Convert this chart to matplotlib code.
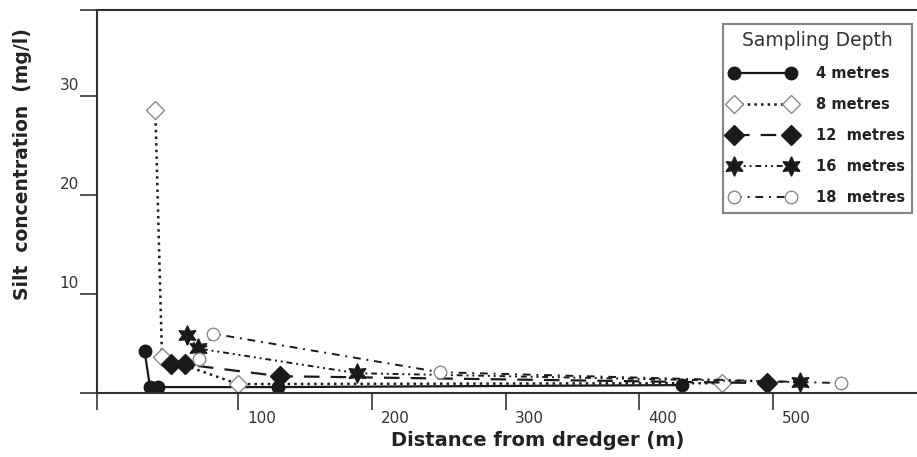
import matplotlib
matplotlib.use('Agg')
from matplotlib import pyplot as plt
from matplotlib.transforms import ScaledTranslation

plt.rcParams['font.family'] = ['DejaVu Sans']

# distance from dredger (m) and silt concentration (mg/l) per sampling depth
x4 = [30, 34, 40, 130, 432]
y4 = [4.2, 0.6, 0.6, 0.6, 0.8]
x8 = [38, 43, 100, 462]
y8 = [28.6, 3.6, 0.9, 1.0]
x12 = [50, 60, 131, 495]
y12 = [2.9, 2.9, 1.7, 1.0]
x16 = [62, 70, 189, 520]
y16 = [5.9, 4.5, 2.0, 1.1]
x18 = [71, 81, 251, 551]
y18 = [3.4, 6.0, 2.1, 1.0]

labels = ['4 metres', '8 metres', '12  metres', '16  metres', '18  metres']
xticks = [100, 200, 300, 400, 500]
yticks = [10, 20, 30]

xmin, xmax = -5.6, 607.5
ymin, ymax = 0, 38.7

fig = plt.figure(figsize=(9.17, 4.57), dpi=100)
ax = fig.add_axes([0.1058, 0.140, 0.8942, 0.838])

dk = '#1a1a1a'
gr = '#8a8a8a'
l4, = ax.plot(x4, y4, '-', color=dk, lw=1.6, marker='o', ms=9, mfc=dk, mec=dk, label=labels[0])
l8, = ax.plot(x8, y8, ':', color=dk, lw=1.8, marker='D', ms=9, mfc='white', mec=gr, label=labels[1])
l12, = ax.plot(x12, y12, color=dk, lw=1.6, dashes=(7, 5), marker='D', ms=10, mfc=dk, mec=dk, label=labels[2])
l16, = ax.plot(x16, y16, color=dk, lw=1.4, dashes=(3, 2, 1, 2, 1, 2), marker=(6, 1, 0), ms=14,
               mfc=dk, mec=dk, label=labels[3])
l18, = ax.plot(x18, y18, color=dk, lw=1.4, dashes=(4, 3, 1, 3), marker='o', ms=9, mfc='white',
               mec=gr, label=labels[4])

ax.set_xlim(xmin, xmax)
ax.set_ylim(ymin, ymax)
ax.spines['right'].set_visible(False)
for s in ['left', 'bottom', 'top']:
    ax.spines[s].set_linewidth(1.5)
    ax.spines[s].set_color('#333333')

ax.set_xticks([xmin] + xticks)
ax.set_xticklabels([''] + [str(v) for v in xticks])
ax.set_yticks([0] + yticks + [ymax])
ax.set_yticklabels([''] + [str(v) for v in yticks] + [''])
ax.tick_params(direction='out', length=12, width=1.2, color='#333333', labelsize=11,
               labelcolor='#333333', pad=1)

for lab in ax.get_xticklabels():
    lab.set_ha('left')
    lab.set_transform(lab.get_transform() + ScaledTranslation(0.09, 0, fig.dpi_scale_trans))
for lab in ax.get_yticklabels():
    lab.set_va('bottom')
    lab.set_transform(lab.get_transform() + ScaledTranslation(0, 0.03, fig.dpi_scale_trans))

fig.text(0.586, 0.037, 'Distance from dredger (m)', fontsize=14, fontweight='bold',
         ha='center', va='center', color='#222222')
fig.text(0.024, 0.64, 'Silt  concentration  (mg/l)', fontsize=13.5, fontweight='bold',
         rotation=90, ha='center', va='center', color='#222222')

leg = fig.legend(handles=[l4, l8, l12, l16, l18], title='Sampling Depth',
                 loc='upper left', bbox_to_anchor=(0.788, 0.948), frameon=True,
                 fancybox=False, edgecolor='#666666', handlelength=4.5, numpoints=2,
                 handletextpad=1.4, borderpad=0.5, borderaxespad=0, labelspacing=1.1,
                 prop={'size': 10.5, 'weight': 'bold'}, title_fontsize=13.5)
leg.get_frame().set_linewidth(1.5)
for t in leg.get_texts():
    t.set_color('#222222')
leg.get_title().set_color('#333333')

fig.savefig('out.png', dpi=100)
